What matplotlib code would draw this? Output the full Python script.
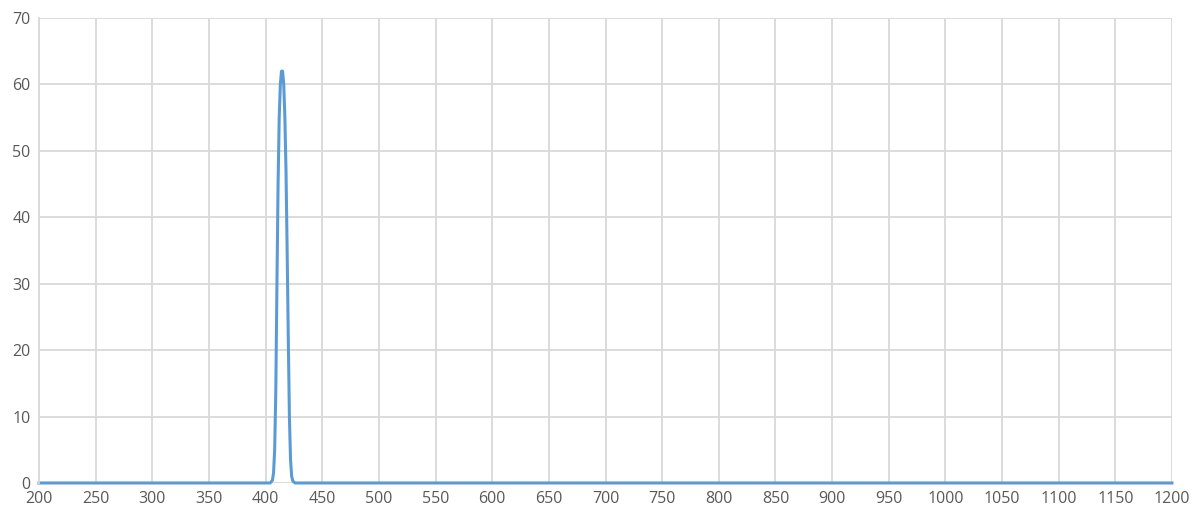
import matplotlib.pyplot as plt

# wavelength (nm) and transmission values
wavelength = [200, 300, 400, 404, 406, 407, 408, 409, 410, 411, 412, 413, 414, 415,
              416, 417, 418, 419, 420, 421, 422, 423, 424, 426, 500, 800, 1200]
transmission = [0, 0, 0, 0, 0.4, 1.5, 5, 14, 30, 45, 55, 60, 62, 62,
                60, 55, 47, 35, 22, 10, 3.5, 1, 0.3, 0, 0, 0, 0]

x_ticks = list(range(200, 1201, 50))
y_ticks = list(range(0, 71, 10))

plt.rcParams['font.family'] = ['Open Sans', 'DejaVu Sans']

fig = plt.figure(figsize=(11.97, 5.19), dpi=100)
ax = fig.add_axes([0.0326, 0.0694, 0.9465, 0.8959])

# line sits on the zero axis, so don't clip its lower half
ax.plot(wavelength, transmission, color='#5B9BD5', linewidth=2.2,
        solid_joinstyle='round', clip_on=False)

ax.set_xlim(200, 1200)
ax.set_ylim(0, 70)
ax.set_xticks(x_ticks)
ax.set_yticks(y_ticks)
ax.grid(True, color='#D9D9D9', linewidth=1.3)
ax.set_axisbelow(True)
ax.tick_params(length=0, labelsize=11.5, labelcolor='#595959', pad=6)
for s in ax.spines.values():
    s.set_visible(False)
ax.spines['left'].set_visible(True)
ax.spines['left'].set_color('#D9D9D9')
ax.spines['left'].set_linewidth(1.3)

plt.savefig('out.png', dpi=100)
